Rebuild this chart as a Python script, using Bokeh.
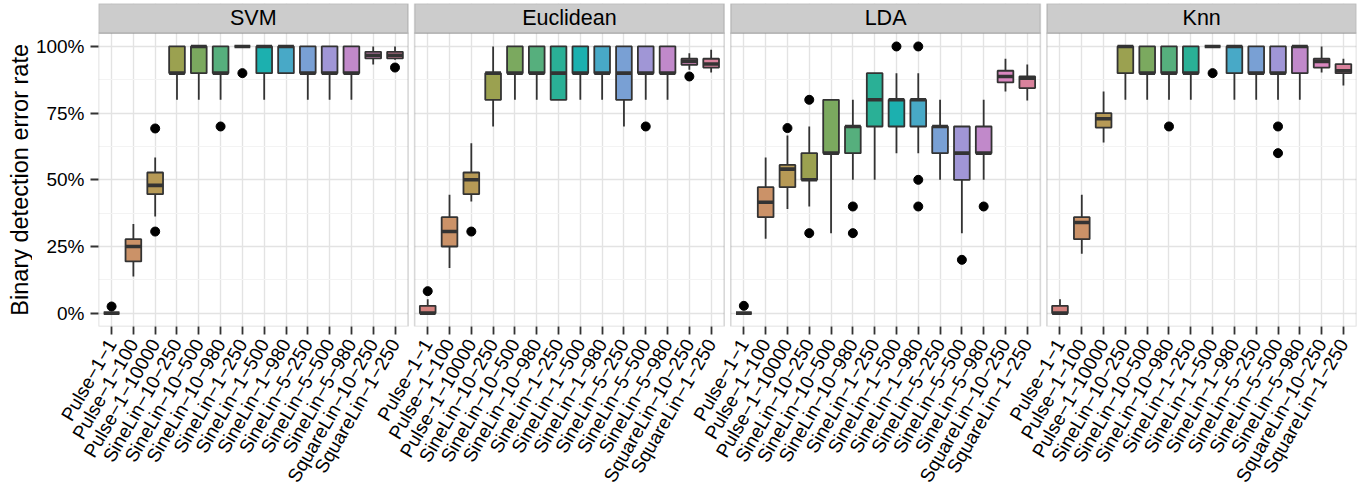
import math
from bokeh.plotting import figure
from bokeh.layouts import row
from bokeh.models import (Range1d, FixedTicker, NumeralTickFormatter, BoxAnnotation,
                          Label, ColumnDataSource)
from bokeh.embed import file_html
from bokeh.resources import INLINE

# ---------------- data ----------------
categories = ["Pulse−1−1", "Pulse−1−100", "Pulse−1−10000", "SineLin−10−250",
              "SineLin−10−500", "SineLin−10−980", "SineLin−1−250", "SineLin−1−500",
              "SineLin−1−980", "SineLin−5−250", "SineLin−5−500", "SineLin−5−980",
              "SquareLin−10−250", "SquareLin−1−250"]
facets = ["SVM", "Euclidean", "LDA", "Knn"]
fill_colors = ["#D4827F", "#CB9268", "#B79A56", "#9BA150", "#7BA95F", "#56AF7D", "#2AB096",
               "#1CB0AF", "#48A9C7", "#79A0D4", "#A096D6", "#C189CA", "#D987BF", "#D9829C"]

svm_lo  = [0, 0.1375, 0.3625, 0.8, 0.8, 0.8, 1.0, 0.8, 0.9, 0.8, 0.8, 0.8, 0.932, 0.95]
svm_q1  = [0, 0.194, 0.446, 0.9, 0.9, 0.9, 1.0, 0.9, 0.9, 0.9, 0.9, 0.9, 0.955, 0.955]
svm_med = [0, 0.25, 0.479, 0.9, 1.0, 0.9, 1.0, 1.0, 1.0, 0.9, 0.9, 0.9, 0.967, 0.967]
svm_q3  = [0, 0.2775, 0.5275, 1.0, 1.0, 1.0, 1.0, 1.0, 1.0, 1.0, 1.0, 1.0, 0.98, 0.98]
svm_hi  = [0, 0.334, 0.584, 1.0, 1.0, 1.0, 1.0, 1.0, 1.0, 1.0, 1.0, 1.0, 1.0, 1.0]
svm_out_cat = [0, 2, 2, 5, 6, 13]
svm_out_val = [0.025, 0.6925, 0.306, 0.7, 0.9, 0.921]

euc_lo  = [0, 0.169, 0.419, 0.7, 0.8, 0.8, 0.8, 0.8, 0.8, 0.7, 0.8, 0.8, 0.9125, 0.9025]
euc_q1  = [0, 0.25, 0.446, 0.8, 0.9, 0.9, 0.8, 0.9, 0.9, 0.8, 0.9, 0.9, 0.931, 0.921]
euc_med = [0, 0.306, 0.5, 0.9, 0.9, 0.9, 0.9, 0.9, 0.9, 0.9, 0.9, 0.9, 0.944, 0.934]
euc_q3  = [0.0275, 0.36, 0.5275, 0.9, 1.0, 1.0, 1.0, 1.0, 1.0, 1.0, 1.0, 1.0, 0.954, 0.954]
euc_hi  = [0.0525, 0.444, 0.6375, 1.0, 1.0, 1.0, 1.0, 1.0, 1.0, 1.0, 1.0, 1.0, 0.975, 0.9875]
euc_out_cat = [0, 2, 10, 12]
euc_out_val = [0.0825, 0.306, 0.7, 0.8875]

lda_lo  = [0, 0.279, 0.391, 0.4, 0.3, 0.5, 0.5, 0.6, 0.6, 0.5, 0.3, 0.5, 0.831, 0.7975]
lda_q1  = [0, 0.36, 0.4725, 0.5, 0.6, 0.6, 0.7, 0.7, 0.7, 0.6, 0.5, 0.6, 0.865, 0.844]
lda_med = [0, 0.416, 0.54, 0.5, 0.6, 0.7, 0.8, 0.8, 0.8, 0.7, 0.6, 0.6, 0.8875, 0.881]
lda_q3  = [0, 0.4725, 0.556, 0.6, 0.8, 0.7, 0.9, 0.8, 0.8, 0.7, 0.7, 0.7, 0.909, 0.8875]
lda_hi  = [0, 0.584, 0.666, 0.7, 0.8, 0.8, 0.9, 0.9, 0.9, 0.8, 0.7, 0.8, 0.954, 0.932]
lda_out_cat = [0, 2, 3, 3, 5, 5, 7, 8, 8, 8, 10, 11]
lda_out_val = [0.0275, 0.694, 0.8, 0.3, 0.4, 0.3, 1.0, 1.0, 0.5, 0.4, 0.2, 0.4]

knn_lo  = [0, 0.2225, 0.64, 0.8, 0.8, 0.8, 0.8, 1.0, 0.8, 0.8, 0.8, 0.8, 0.9025, 0.854]
knn_q1  = [0, 0.2775, 0.696, 0.9, 0.9, 0.9, 0.9, 1.0, 0.9, 0.9, 0.9, 0.9, 0.921, 0.9]
knn_med = [0, 0.34, 0.729, 1.0, 0.9, 0.9, 0.9, 1.0, 1.0, 0.9, 0.9, 1.0, 0.944, 0.909]
knn_q3  = [0.0275, 0.36, 0.75, 1.0, 1.0, 1.0, 1.0, 1.0, 1.0, 1.0, 1.0, 1.0, 0.954, 0.934]
knn_hi  = [0.0525, 0.444, 0.831, 1.0, 1.0, 1.0, 1.0, 1.0, 1.0, 1.0, 1.0, 1.0, 1.0, 0.954]
knn_out_cat = [5, 7, 10, 10]
knn_out_val = [0.7, 0.9, 0.7, 0.6]

y_ticks = [0, 0.25, 0.5, 0.75, 1.0]
y_minor = [0.125, 0.375, 0.625, 0.875]
y_title = "Binary detection error rate"

# ---------------- layout constants ----------------
STEP = 10          # one category = 10 x-units
PAD = 6            # 0.6 category of padding inside each panel
PANEL_W = 142      # 14 categories + 2*0.6 padding
GAP = 3            # space between panels
BOX_W = 7.2
Y0, Y_STRIP = -0.05, 1.05
FRAME_H = 323
TOP = 3
Y1 = Y0 + FRAME_H / 266.7
FONT = "Liberation Sans"
TITLE_W = 32

def panel_start(k):
    return k * (PANEL_W + GAP)

def xpos(k, i):
    return panel_start(k) + PAD + STEP * i

stats = [
    (svm_lo, svm_q1, svm_med, svm_q3, svm_hi, svm_out_cat, svm_out_val),
    (euc_lo, euc_q1, euc_med, euc_q3, euc_hi, euc_out_cat, euc_out_val),
    (lda_lo, lda_q1, lda_med, lda_q3, lda_hi, lda_out_cat, lda_out_val),
    (knn_lo, knn_q1, knn_med, knn_q3, knn_hi, knn_out_cat, knn_out_val),
]

cols = dict(x=[], xl=[], xr=[], lo=[], q1=[], med=[], q3=[], hi=[], color=[])
ox, oy = [], []
for k, (lo, q1, med, q3, hi, oc, ov) in enumerate(stats):
    for i in range(len(categories)):
        x = xpos(k, i)
        cols["x"].append(x)
        cols["xl"].append(x - BOX_W / 2)
        cols["xr"].append(x + BOX_W / 2)
        cols["lo"].append(lo[i]); cols["q1"].append(q1[i]); cols["med"].append(med[i])
        cols["q3"].append(q3[i]); cols["hi"].append(hi[i])
        cols["color"].append(fill_colors[i])
    for c, v in zip(oc, ov):
        ox.append(xpos(k, c)); oy.append(v)
src = ColumnDataSource(cols)

y_range = Range1d(Y0, Y1)
total_w = 4 * PANEL_W + 3 * GAP
p = figure(frame_width=1258, frame_height=FRAME_H,
           x_range=Range1d(0, total_w), y_range=y_range,
           output_backend="svg", toolbar_location=None,
           min_border_left=96 - TITLE_W, min_border_right=8, min_border_top=TOP,
           min_border_bottom=0,
           background_fill_color="white", border_fill_color="white",
           outline_line_color=None)

# grids
xticks = [xpos(k, i) for k in range(4) for i in range(len(categories))]
xt = FixedTicker(ticks=xticks)
yt = FixedTicker(ticks=y_ticks, minor_ticks=y_minor)
p.xaxis.ticker = xt
p.xgrid.ticker = xt
p.yaxis.ticker = yt
p.ygrid.ticker = yt
p.xgrid.grid_line_color = "#e3e3e3"
p.xgrid.grid_line_width = 1.4
p.ygrid.grid_line_color = "#e3e3e3"
p.ygrid.grid_line_width = 1.4
p.ygrid.minor_grid_line_color = "#f3f3f3"
p.ygrid.minor_grid_line_width = 1.2

# axes
p.xaxis.major_label_overrides = {xpos(k, i): categories[i]
                                 for k in range(4) for i in range(len(categories))}
p.xaxis.major_label_orientation = math.pi / 3
p.yaxis.formatter = NumeralTickFormatter(format="0%")
for ax in (p.xaxis, p.yaxis):
    ax.axis_line_color = None
    ax.major_tick_in = 0
    ax.major_tick_out = 8
    ax.minor_tick_in = 0
    ax.minor_tick_out = 0
    ax.major_tick_line_color = "#333333"
    ax.major_tick_line_width = 1.8
    ax.major_label_text_font = FONT
    ax.major_label_text_color = "black"
p.yaxis.major_label_text_font_size = "19px"
p.xaxis.major_label_text_font_size = "19px"
p.xaxis.major_label_standoff = 6
p.yaxis.major_label_standoff = 6

# boxplots
p.segment(x0="x", y0="q3", x1="x", y1="hi", source=src, line_color="#333333", line_width=1.8)
p.segment(x0="x", y0="q1", x1="x", y1="lo", source=src, line_color="#333333", line_width=1.8)
p.vbar(x="x", width=BOX_W, bottom="q1", top="q3", source=src, fill_color="color",
       line_color="#333333", line_width=1.8)
p.segment(x0="xl", y0="med", x1="xr", y1="med", source=src, line_color="#333333",
          line_width=3.6)
p.scatter(ox, oy, size=9, color="black")

# panel gaps, borders and strips
for k in range(3):
    p.add_layout(BoxAnnotation(left=panel_start(k) + PANEL_W, right=panel_start(k + 1),
                               fill_color="white", fill_alpha=1, line_color=None))
for k, name in enumerate(facets):
    left, right = panel_start(k), panel_start(k) + PANEL_W
    p.add_layout(BoxAnnotation(left=left, right=right, top=Y_STRIP, fill_alpha=0,
                               line_color="#7f7f7f", line_width=1.6))
    p.add_layout(BoxAnnotation(left=left, right=right, bottom=Y_STRIP, fill_color="#cccccc",
                               fill_alpha=1, line_color="#7f7f7f", line_width=1.6))
    p.add_layout(Label(x=(left + right) / 2, y=(Y_STRIP + Y1) / 2, text=name,
                       text_align="center", text_baseline="middle", text_font=FONT,
                       text_font_size="21.5px", text_color="black"))

# y axis title, centred on the panel area (below the strips)
t = figure(frame_width=TITLE_W, frame_height=FRAME_H, x_range=Range1d(0, TITLE_W),
           y_range=y_range, output_backend="svg", toolbar_location=None,
           min_border_left=0, min_border_right=0, min_border_top=TOP, min_border_bottom=0,
           outline_line_color=None, background_fill_color="white",
           border_fill_color="white")
t.axis.visible = False
t.grid.visible = False
t.add_layout(Label(x=19, y=0.5, text=y_title, angle=math.pi / 2,
                   text_align="center", text_baseline="middle", text_font=FONT,
                   text_font_size="23.5px", text_color="black"))

layout = row(t, p)
open("out.html", "w").write(file_html(layout, INLINE))
